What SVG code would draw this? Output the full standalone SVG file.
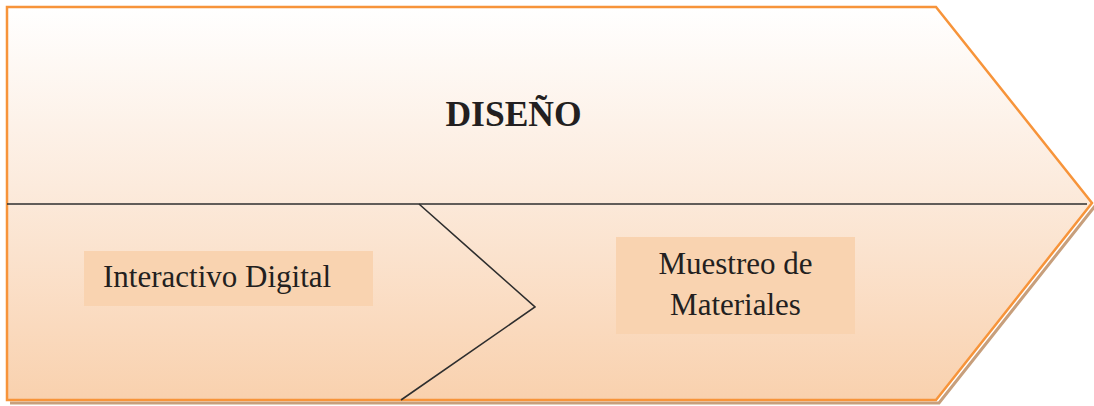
<svg xmlns="http://www.w3.org/2000/svg" width="1094" height="406" viewBox="0 0 1094 406">
  <defs>
    <linearGradient id="bodyFill" x1="0" y1="0" x2="0" y2="1">
      <stop offset="0" stop-color="#ffffff"/>
      <stop offset="0.45" stop-color="#fcebdd"/>
      <stop offset="1" stop-color="#f9d1ae"/>
    </linearGradient>
    <style>
      .chev { fill: url(#bodyFill); stroke: #f7943a; stroke-width: 2.5; stroke-linejoin: miter; }
      .shadow { fill: none; stroke: #c79f7c; stroke-width: 3; }
      .rule { fill: none; stroke: #2e2e2e; stroke-width: 1.6; }
      .box { fill: #f9d3b0; }
      .title { font-family: "Liberation Serif", "Times New Roman", serif; font-weight: bold; font-size: 35.5px; fill: #231f20; }
      .label { font-family: "Liberation Serif", "Times New Roman", serif; font-size: 31px; fill: #231f20; }
    </style>
  </defs>

  <!-- chevron body with its drop shadow -->
  <g id="chevron">
    <polyline class="shadow" points="10,403 939,403 1095,206"/>
    <polygon class="chev" points="7,7 936,7 1092,203 936,400 7,400"/>
  </g>

  <!-- divider and zigzag separating the two lower steps -->
  <g id="connectors">
    <line class="rule" x1="7" y1="204" x2="1087" y2="204"/>
    <polyline class="rule" points="419,204 535,307 401,400"/>
  </g>

  <g id="title">
    <text class="title" x="513.5" y="126" text-anchor="middle">DISEÑO</text>
  </g>

  <g id="interactivo">
    <rect class="box" x="84" y="251" width="289" height="55"/>
    <text class="label" x="103" y="287">Interactivo Digital</text>
  </g>

  <g id="muestreo">
    <rect class="box" x="616" y="237" width="239" height="97"/>
    <text class="label" x="735.5" y="274" text-anchor="middle">Muestreo de</text>
    <text class="label" x="735.5" y="315" text-anchor="middle">Materiales</text>
  </g>
</svg>
